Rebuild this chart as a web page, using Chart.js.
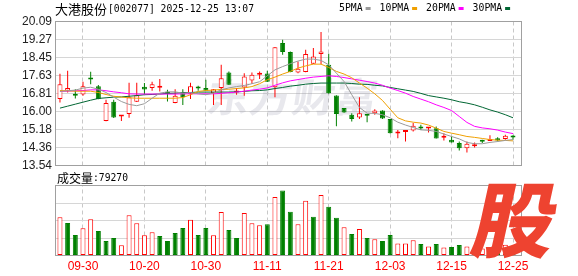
<!DOCTYPE html>
<html><head><meta charset="utf-8">
<script src="https://cdn.jsdelivr.net/npm/chart.js@4.4.1/dist/chart.umd.min.js"></script>
<style>html,body{margin:0;padding:0;background:#fff;overflow:hidden}canvas{display:block}</style>
</head><body>
<canvas id="c" width="578" height="276"></canvas>
<script>
// ---------- data ----------
const dates = ['09-25','09-26','09-29','09-30','10-09','10-10','10-13','10-14','10-15','10-16','10-17','10-20','10-21','10-22','10-23','10-24','10-27','10-28','10-29','10-30','10-31','11-03','11-04','11-05','11-06','11-07','11-10','11-11','11-12','11-13','11-14','11-17','11-18','11-19','11-20','11-21','11-24','11-25','11-26','11-27','11-28','12-01','12-02','12-03','12-04','12-05','12-08','12-09','12-10','12-11','12-12','12-15','12-16','12-17','12-18','12-19','12-22','12-23','12-24','12-25'];
const tickDates = ['09-30','10-20','10-30','11-11','11-21','12-03','12-15','12-25'];
const open  = [16.56,16.94,16.80,16.77,17.51,17.15,15.56,16.44,15.77,15.88,16.44,17.12,17.06,17.08,16.89,16.38,16.83,16.80,17.06,17.06,16.83,17.06,17.77,16.86,17.09,17.41,17.67,17.72,17.10,19.11,18.70,17.77,17.79,18.17,18.61,18.12,16.72,16.15,15.85,15.72,15.83,15.92,16.04,15.65,15.00,15.06,15.13,15.28,15.22,15.24,14.80,14.71,14.56,14.33,14.41,14.65,14.65,14.78,14.74,14.83];
const high  = [17.71,17.85,17.01,17.35,17.80,17.20,16.53,16.53,15.83,17.30,17.30,17.29,17.35,17.47,16.98,17.01,17.01,17.30,17.17,17.44,17.02,18.12,17.82,17.06,17.74,17.77,17.82,17.85,18.93,19.26,18.72,18.27,18.80,18.88,19.61,18.62,16.73,16.16,15.92,16.65,15.84,16.10,16.05,15.66,15.16,15.10,15.47,15.39,15.29,15.31,15.01,14.86,14.63,14.63,14.59,14.71,14.92,14.83,14.94,14.92];
const low   = [16.41,16.86,16.59,16.71,17.24,16.55,15.55,15.70,15.56,15.71,16.43,16.79,16.94,16.91,16.45,16.37,16.29,16.56,16.94,16.93,16.29,16.29,17.20,16.76,16.71,17.26,17.47,17.34,16.64,18.58,17.78,17.74,17.78,18.16,18.15,16.80,15.32,15.94,15.54,15.66,15.51,15.85,15.65,15.00,14.78,14.63,15.09,15.16,15.04,14.77,14.68,14.59,14.22,14.13,14.36,14.56,14.65,14.63,14.71,14.71];
const close = [17.24,17.06,16.71,17.15,17.45,16.56,16.38,15.72,15.80,16.65,16.74,17.00,17.24,17.10,16.80,16.71,16.65,17.15,17.04,16.94,17.01,17.51,17.21,16.95,17.59,17.67,17.74,17.35,18.92,18.70,17.79,17.94,18.61,18.50,18.73,16.83,15.88,15.95,15.66,15.92,15.80,16.04,15.68,15.01,15.02,15.09,15.35,15.22,15.24,14.77,14.82,14.59,14.33,14.53,14.48,14.62,14.74,14.68,14.89,14.81];
const volume = [54.9,46.7,29.4,39.0,52.0,35.2,20.7,25.1,14.5,57.8,46.3,28.9,33.3,28.0,20.7,32.3,39.5,51.1,29.4,39.5,28.9,62.2,36.6,25.1,60.7,46.3,43.4,44.8,83.9,93.0,62.6,44.8,78.5,55.4,86.7,69.9,54.0,40.5,30.8,38.1,25.1,23.1,20.7,29.4,17.3,17.3,21.7,16.4,13.0,16.4,11.6,12.0,14.9,13.0,9.0,10.1,8.0,9.0,15.4,7.927];
const ma5  = [16.91,16.94,16.97,17.06,17.10,17.01,16.86,16.65,16.45,16.32,16.26,16.35,16.60,16.83,16.89,16.89,16.83,16.86,16.80,16.76,16.83,16.98,17.07,17.13,17.18,17.26,17.35,17.62,17.89,18.04,18.17,18.29,18.38,18.38,18.32,18.12,17.74,17.36,16.76,16.18,15.92,15.91,15.85,15.71,15.51,15.38,15.27,15.16,15.14,15.09,14.97,14.86,14.75,14.59,14.53,14.53,14.59,14.63,14.68,14.72];
const ma10 = [16.95,16.94,16.92,16.92,16.92,16.86,16.77,16.69,16.65,16.62,16.60,16.60,16.60,16.60,16.60,16.60,16.63,16.76,16.91,16.95,16.97,17.00,17.01,17.04,17.07,17.13,17.26,17.44,17.56,17.70,17.82,17.97,18.07,18.15,18.15,18.00,17.82,17.70,17.53,17.29,17.06,16.80,16.50,16.10,15.71,15.57,15.51,15.47,15.38,15.24,15.09,15.01,14.94,14.86,14.82,14.77,14.72,14.69,14.68,14.66];
const ma20 = [16.91,16.92,16.94,16.95,16.98,16.98,16.94,16.89,16.85,16.80,16.79,16.79,16.79,16.79,16.79,16.79,16.80,16.80,16.80,16.80,16.80,16.82,16.85,16.88,16.92,16.97,17.01,17.07,17.19,17.30,17.39,17.45,17.51,17.56,17.59,17.62,17.59,17.54,17.48,17.42,17.36,17.29,17.19,17.06,16.95,16.83,16.68,16.56,16.44,16.30,16.18,16.04,15.77,15.50,15.32,15.25,15.21,15.15,15.06,14.99];
const ma30 = [16.15,16.24,16.33,16.42,16.51,16.59,16.62,16.65,16.66,16.69,16.72,16.76,16.77,16.79,16.82,16.83,16.86,16.86,16.88,16.88,16.88,16.88,16.88,16.89,16.91,16.94,16.95,16.98,17.04,17.09,17.15,17.19,17.24,17.27,17.29,17.29,17.29,17.29,17.27,17.24,17.23,17.19,17.16,17.09,17.03,16.97,16.91,16.82,16.72,16.66,16.60,16.53,16.44,16.38,16.30,16.19,16.07,15.97,15.85,15.71];
const priceTicks  = ['20.09','19.27','18.45','17.63','16.81','16.00','15.18','14.36','13.54'];
const volumeTicks = ['100万','75.18万','50.12万','25.06万','0'];
const legendNames = ['5PMA','10PMA','20PMA','30PMA'];
const stockName = '大港股份';
const stockInfo = '[002077] 2025-12-25 13:07';
const volName = '成交量';
const volNow = ':79270';
const watermark = '东方财富';
const logoChar = '股';

// ---------- styling / layout ----------
const RED = '#ff0000', GREEN = '#008000';
const maColors = ['#9a9a9a', '#f0a000', '#ff00ff', '#006633'];
const priceMax = parseFloat(priceTicks[0]);
const priceMin = parseFloat(priceTicks[priceTicks.length - 1]);
const priceStep = (priceMax - priceMin) / (priceTicks.length - 1);
const AREA_H = 234, PRICE_H = 144, VOL_H = 70;
const priceAxisMin = priceMax - (priceMax - priceMin) * AREA_H / PRICE_H;
const volMax = parseFloat(volumeTicks[1]) / 3 * 4; // 100.24
const volStep = volMax / (volumeTicks.length - 1);
const volAxisMax = volMax * AREA_H / VOL_H;
const xMin = -0.6465, xMax = 60.172;

const up = close.map((c, i) => c >= open[i]);
const volUp = close.map((c, i) => i === 0 ? true : c >= close[i - 1]);

const MONO = '"DejaVu Sans Mono", monospace';
const CJK = '"Noto Sans CJK SC", sans-serif';
const TICKFONT = { family: '"Liberation Sans", "Noto Sans CJK SC", sans-serif', size: 12 };

function fitText(c, text, x, y, w, font, color) {
  c.save();
  c.font = font; c.fillStyle = color; c.textBaseline = 'middle'; c.textAlign = 'left';
  const m = c.measureText(text).width;
  c.translate(x, y); c.scale(w / m, 1); c.fillText(text, 0, 0);
  c.restore();
}

const decor = {
  id: 'decor',
  beforeDatasetsDraw(chart) {
    const c = chart.ctx, a = chart.chartArea;
    const pBot = chart.scales.y.getPixelForValue(priceMin);
    const vTop = chart.scales.yVol.getPixelForValue(volMax);
    c.save();
    c.fillStyle = '#fff';
    c.fillRect(a.left, pBot + 0.5, a.right - a.left, vTop - pBot - 1);
    c.restore();
    c.save();
    c.translate(207, 97);
    c.transform(1, 0, -0.15, 1, 0, 0);
    fitText(c, watermark, 0, 0, 171, 'bold 40px ' + CJK, 'rgba(140,140,165,0.20)');
    c.restore();
  },
  afterDraw(chart) {
    const c = chart.ctx, a = chart.chartArea;
    const pBot = chart.scales.y.getPixelForValue(priceMin);
    const vTop = chart.scales.yVol.getPixelForValue(volMax);
    c.save();
    c.strokeStyle = '#a0a0a0'; c.lineWidth = 1;
    c.strokeRect(a.left + 0.5, a.top, a.right - a.left - 1, pBot - a.top);
    c.strokeRect(a.left + 0.5, vTop, a.right - a.left - 1, a.bottom - vTop);
    c.restore();
    // title
    c.save(); c.font = '13px ' + CJK; c.fillStyle = '#000'; c.textBaseline = 'middle';
    c.fillText(stockName, 55, 9.5);
    const nw = c.measureText(stockName).width; c.restore();
    fitText(c, stockInfo, 55 + nw + 1, 9.5, 146, '11px ' + MONO, '#000');
    // legend
    let x = 339;
    legendNames.forEach((n, k) => {
      const w = n.length * 5.9;
      fitText(c, n, x, 8.5, w, '11px ' + MONO, '#000');
      x += w + 3;
      c.fillStyle = maColors[k]; c.fillRect(x, 7, 5, 3);
      x += 5 + 9;
    });
    // volume caption
    c.save(); c.font = '12px ' + CJK; c.fillStyle = '#000'; c.textBaseline = 'middle';
    c.fillText(volName, 57, 178);
    const vw = c.measureText(volName).width; c.restore();
    fitText(c, volNow, 57 + vw, 178, 35, '11px ' + MONO, '#000');
    // logo
    c.save();
    c.translate(516, 220);
    c.transform(1, 0, -0.22, 1, 0, 0);
    c.font = '900 82px ' + CJK;
    c.fillStyle = '#ee4330'; c.textAlign = 'center'; c.textBaseline = 'middle';
    c.fillText(logoChar, 0, 0);
    c.restore();
  }
};

const pts = arr => arr.map((v, i) => ({ x: i, y: v }));
const datasets = [];
[ma5, ma10, ma20, ma30].forEach((m, k) => datasets.push({
  type: 'line', data: pts(m), borderColor: maColors[k], borderWidth: 1,
  pointRadius: 0, yAxisID: 'y', xAxisID: 'x', order: 0, tension: 0
}));
datasets.push({
  type: 'bar', data: dates.map((d, i) => ({ x: i, y: [open[i], close[i]] })),
  backgroundColor: up.map(u => u ? '#ffffff' : GREEN), borderColor: up.map(u => u ? RED : GREEN),
  borderWidth: 1, borderSkipped: false, barThickness: 5, minBarLength: 2,
  grouped: false, inflateAmount: 0, yAxisID: 'y', xAxisID: 'x', order: 2
});
datasets.push({
  type: 'bar', data: dates.map((d, i) => ({ x: i, y: [low[i], high[i]] })),
  backgroundColor: up.map(u => u ? RED : GREEN), borderWidth: 0, barThickness: 1,
  grouped: false, inflateAmount: 0, yAxisID: 'y', xAxisID: 'x', order: 3
});
datasets.push({
  type: 'bar', data: pts(volume),
  backgroundColor: volUp.map(u => u ? '#ffffff' : GREEN), borderColor: volUp.map(u => u ? RED : GREEN),
  borderWidth: 1, borderSkipped: false, barThickness: 5,
  grouped: false, inflateAmount: 0, yAxisID: 'yVol', xAxisID: 'x', order: 4
});

new Chart(document.getElementById('c'), {
  type: 'bar',
  data: { datasets },
  plugins: [decor],
  options: {
    responsive: false, animation: false, devicePixelRatio: 1,
    layout: { padding: { top: 21.5, right: 56, left: 0, bottom: 0 } },
    plugins: { legend: { display: false }, tooltip: { enabled: false } },
    scales: {
      x: {
        type: 'linear', min: xMin, max: xMax, bounds: 'data', offset: false,
        afterFit(s) { s.height = 20.5; },
        afterBuildTicks(s) { s.ticks = tickDates.map(d => ({ value: dates.indexOf(d) })); },
        ticks: { callback: v => dates[v], color: RED, font: TICKFONT, padding: 4, autoSkip: false, maxRotation: 0 },
        grid: { color: '#c8c8c8', drawTicks: false, lineWidth: 1, offset: false },
        border: { display: false, dash: [4, 3] }
      },
      y: {
        type: 'linear', position: 'left', weight: 1, min: priceAxisMin, max: priceMax, bounds: 'data',
        afterFit(s) { s.width = 55; },
        afterBuildTicks(s) { s.ticks = priceTicks.map((t, k) => ({ value: priceMax - k * priceStep })); },
        ticks: { callback: (v, i) => priceTicks[i], color: '#222', font: TICKFONT, padding: 3, autoSkip: false },
        grid: { color: ctx => (ctx.index === 0 || ctx.index === priceTicks.length - 1) ? 'rgba(0,0,0,0)' : '#d6d6d6', drawTicks: false },
        border: { display: false }
      },
      yVol: {
        type: 'linear', position: 'left', weight: 0, min: 0, max: volAxisMax, bounds: 'data',
        afterFit(s) { s.width = 0; },
        afterBuildTicks(s) { s.ticks = volumeTicks.map((t, k) => ({ value: volMax - k * volStep })); },
        ticks: { callback: (v, i) => volumeTicks[i], color: '#222', font: TICKFONT, padding: 3, autoSkip: false },
        grid: { color: ctx => (ctx.index === 0 || ctx.index === volumeTicks.length - 1) ? 'rgba(0,0,0,0)' : '#d6d6d6', drawTicks: false },
        border: { display: false }
      }
    }
  }
});
</script>
</body></html>
